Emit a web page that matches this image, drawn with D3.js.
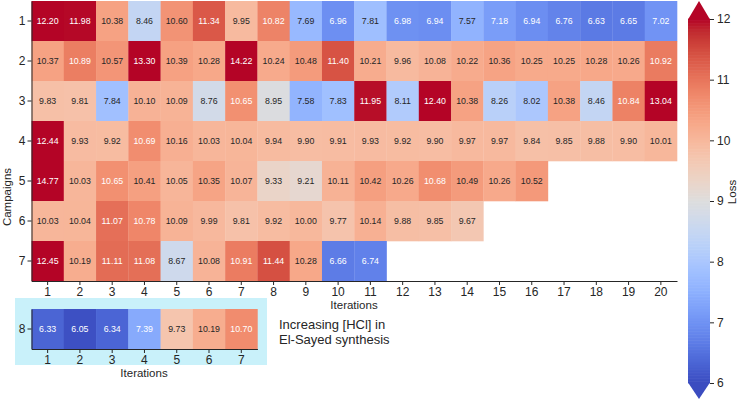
<!DOCTYPE html>
<html><head><meta charset="utf-8">
<script src="https://cdn.jsdelivr.net/npm/d3@7"></script>
<style>
body{margin:0;background:#fff;}
svg{display:block;font-family:"Liberation Sans",Arial,sans-serif;}
</style></head>
<body><svg id="c" width="738" height="401"></svg>
<script>
const iterations = d3.range(1, 21);
const campaigns = [1, 2, 3, 4, 5, 6, 7];
const row1 = [12.20, 11.98, 10.38, 8.46, 10.60, 11.34, 9.95, 10.82, 7.69, 6.96, 7.81, 6.98, 6.94, 7.57, 7.18, 6.94, 6.76, 6.63, 6.65, 7.02];
const row2 = [10.37, 10.89, 10.57, 13.30, 10.39, 10.28, 14.22, 10.24, 10.48, 11.40, 10.21, 9.96, 10.08, 10.22, 10.36, 10.25, 10.25, 10.28, 10.26, 10.92];
const row3 = [9.83, 9.81, 7.84, 10.10, 10.09, 8.76, 10.65, 8.95, 7.58, 7.83, 11.95, 8.11, 12.40, 10.38, 8.26, 8.02, 10.38, 8.46, 10.84, 13.04];
const row4 = [12.44, 9.93, 9.92, 10.69, 10.16, 10.03, 10.04, 9.94, 9.90, 9.91, 9.93, 9.92, 9.90, 9.97, 9.97, 9.84, 9.85, 9.88, 9.90, 10.01];
const row5 = [14.77, 10.03, 10.65, 10.41, 10.05, 10.35, 10.07, 9.33, 9.21, 10.11, 10.42, 10.26, 10.68, 10.49, 10.26, 10.52];
const row6 = [10.03, 10.04, 11.07, 10.78, 10.09, 9.99, 9.81, 9.92, 10.00, 9.77, 10.14, 9.88, 9.85, 9.67];
const row7 = [12.45, 10.19, 11.11, 11.08, 8.67, 10.08, 10.91, 11.44, 10.28, 6.66, 6.74];
const rows = [row1, row2, row3, row4, row5, row6, row7];
const insetIterations = d3.range(1, 8);
const insetCampaign = [8];
const row8 = [6.33, 6.05, 6.34, 7.39, 9.73, 10.19, 10.70];
const cbarTicks = [6, 7, 8, 9, 10, 11, 12];
const vmin = 6, vmax = 12;

// matplotlib coolwarm control points
const cw = [[59,76,192],[68,90,204],[77,104,215],[87,117,225],[98,130,234],[108,142,241],[119,154,247],[130,165,251],[141,176,254],[152,185,255],[163,194,255],[174,201,253],[184,208,249],[194,213,244],[204,217,238],[213,219,230],[221,221,221],[229,216,209],[236,211,197],[241,204,185],[245,196,173],[247,187,160],[247,177,148],[247,166,135],[244,154,123],[241,141,111],[236,127,99],[229,112,88],[222,96,77],[213,80,66],[203,62,56],[192,40,47],[180,4,38]];
function coolwarm(t){
  t = Math.max(0, Math.min(1, t));
  const p = t * (cw.length - 1), i = Math.min(Math.floor(p), cw.length - 2), f = p - i;
  const a = cw[i], b = cw[i+1];
  return [0,1,2].map(k => a[k] + (b[k]-a[k]) * f);
}
const colorScale = d3.scaleLinear().domain([vmin, vmax]).range([0, 1]).clamp(true);
const color = v => { const c = coolwarm(colorScale(v)); return `rgb(${c.map(Math.round).join(",")})`; };
function lum(v){
  const c = coolwarm(colorScale(v)).map(x => { x /= 255; return x <= 0.03928 ? x/12.92 : Math.pow((x+0.055)/1.055, 2.4); });
  return 0.2126*c[0] + 0.7152*c[1] + 0.0722*c[2];
}
const txtColor = v => lum(v) > 0.408 ? "#262626" : "#ffffff";

const svg = d3.select("#c");
const ink = "#262626";
const labelSize = 11.5, tickSize = 12;

// main heatmap
const x = d3.scaleBand().domain(iterations).range([31.5, 677]);
const y = d3.scaleBand().domain(campaigns).range([1, 281]);
const cells = [];
rows.forEach((r, i) => r.forEach((v, j) => cells.push({c: campaigns[i], it: iterations[j], v})));

function drawCells(g, data, xs, ys){
  g.selectAll("rect").data(data).join("rect")
    .attr("x", d => xs(d.it)).attr("y", d => ys(d.c))
    .attr("width", xs.bandwidth() + 0.3).attr("height", ys.bandwidth() + 0.3)
    .attr("fill", d => color(d.v));
  g.selectAll("text").data(data).join("text")
    .attr("x", d => xs(d.it) + xs.bandwidth()/2).attr("y", d => ys(d.c) + ys.bandwidth()/2)
    .attr("dy", "0.35em").attr("text-anchor", "middle")
    .attr("font-size", 8.8).attr("fill", d => txtColor(d.v))
    .text(d => d.v.toFixed(2));
}

// inset background
const ix = d3.scaleBand().domain(insetIterations).range([31.5, 31.5 + 7 * x.bandwidth()]);
const iy = d3.scaleBand().domain(insetCampaign).range([309, 349]);
svg.append("rect").attr("x", 15).attr("y", 298).attr("width", 252).attr("height", 67).attr("fill", "#c9f1fa");

drawCells(svg.append("g"), cells, x, y);
drawCells(svg.append("g"), row8.map((v, j) => ({c: 8, it: insetIterations[j], v})), ix, iy);

function styleAxis(g){
  g.selectAll("path").attr("stroke", ink).attr("stroke-width", 1);
  g.selectAll("line").attr("stroke", ink);
  g.selectAll("text").attr("fill", ink).attr("font-size", tickSize).attr("font-family", "Liberation Sans, Arial, sans-serif");
}
styleAxis(svg.append("g").attr("transform", "translate(0,281)").call(d3.axisBottom(x).tickSize(4).tickPadding(2).tickSizeOuter(0)));
styleAxis(svg.append("g").attr("transform", "translate(31.5,0)").call(d3.axisLeft(y).tickSize(4).tickPadding(2).tickSizeOuter(0)));
styleAxis(svg.append("g").attr("transform", "translate(0,349)").call(d3.axisBottom(ix).tickSize(4).tickPadding(2).tickSizeOuter(0)));
styleAxis(svg.append("g").attr("transform", "translate(31.5,0)").call(d3.axisLeft(iy).tickSize(4).tickPadding(2).tickSizeOuter(0)));

svg.append("text").attr("x", 354).attr("y", 308.5).attr("text-anchor", "middle").attr("font-size", labelSize).attr("fill", ink).text("Iterations");
svg.append("text").attr("x", 144).attr("y", 376.5).attr("text-anchor", "middle").attr("font-size", labelSize).attr("fill", ink).text("Iterations");
svg.append("text").attr("transform", "translate(11,197) rotate(-90)").attr("text-anchor", "middle").attr("font-size", labelSize).attr("fill", ink).text("Campaigns");
svg.append("text").attr("x", 279).attr("y", 329).attr("font-size", 13).attr("fill", ink).text("Increasing [HCl] in");
svg.append("text").attr("x", 279).attr("y", 344).attr("font-size", 13).attr("fill", ink).text("El-Sayed synthesis");

// colorbar
const cy = d3.scaleLinear().domain([vmin, vmax]).range([383, 19]);
const cbx0 = 688, cbx1 = 710;
const steps = d3.range(0, 240).map(i => vmin + (vmax - vmin) * (i + 0.5) / 240);
svg.append("g").selectAll("rect").data(steps).join("rect")
  .attr("x", cbx0).attr("width", cbx1 - cbx0)
  .attr("y", d => cy(d + (vmax - vmin)/480) - 0.3).attr("height", (383 - 19)/240 + 0.6)
  .attr("fill", d => color(d));
svg.append("path").attr("d", `M${cbx0},${cy(vmax)+0.5}L${(cbx0+cbx1)/2},1L${cbx1},${cy(vmax)+0.5}Z`).attr("fill", color(vmax + 1));
svg.append("path").attr("d", `M${cbx0},${cy(vmin)-0.5}L${(cbx0+cbx1)/2},399L${cbx1},${cy(vmin)-0.5}Z`).attr("fill", color(vmin - 1));
const cax = svg.append("g").attr("transform", `translate(${cbx1},0)`).call(d3.axisRight(cy).tickValues(cbarTicks).tickFormat(d3.format("d")).tickSize(4).tickPadding(3));
cax.select("path").remove();
styleAxis(cax);
svg.append("text").attr("transform", "translate(736,192) rotate(-90)").attr("text-anchor", "middle").attr("font-size", labelSize).attr("fill", ink).text("Loss");
</script></body></html>
